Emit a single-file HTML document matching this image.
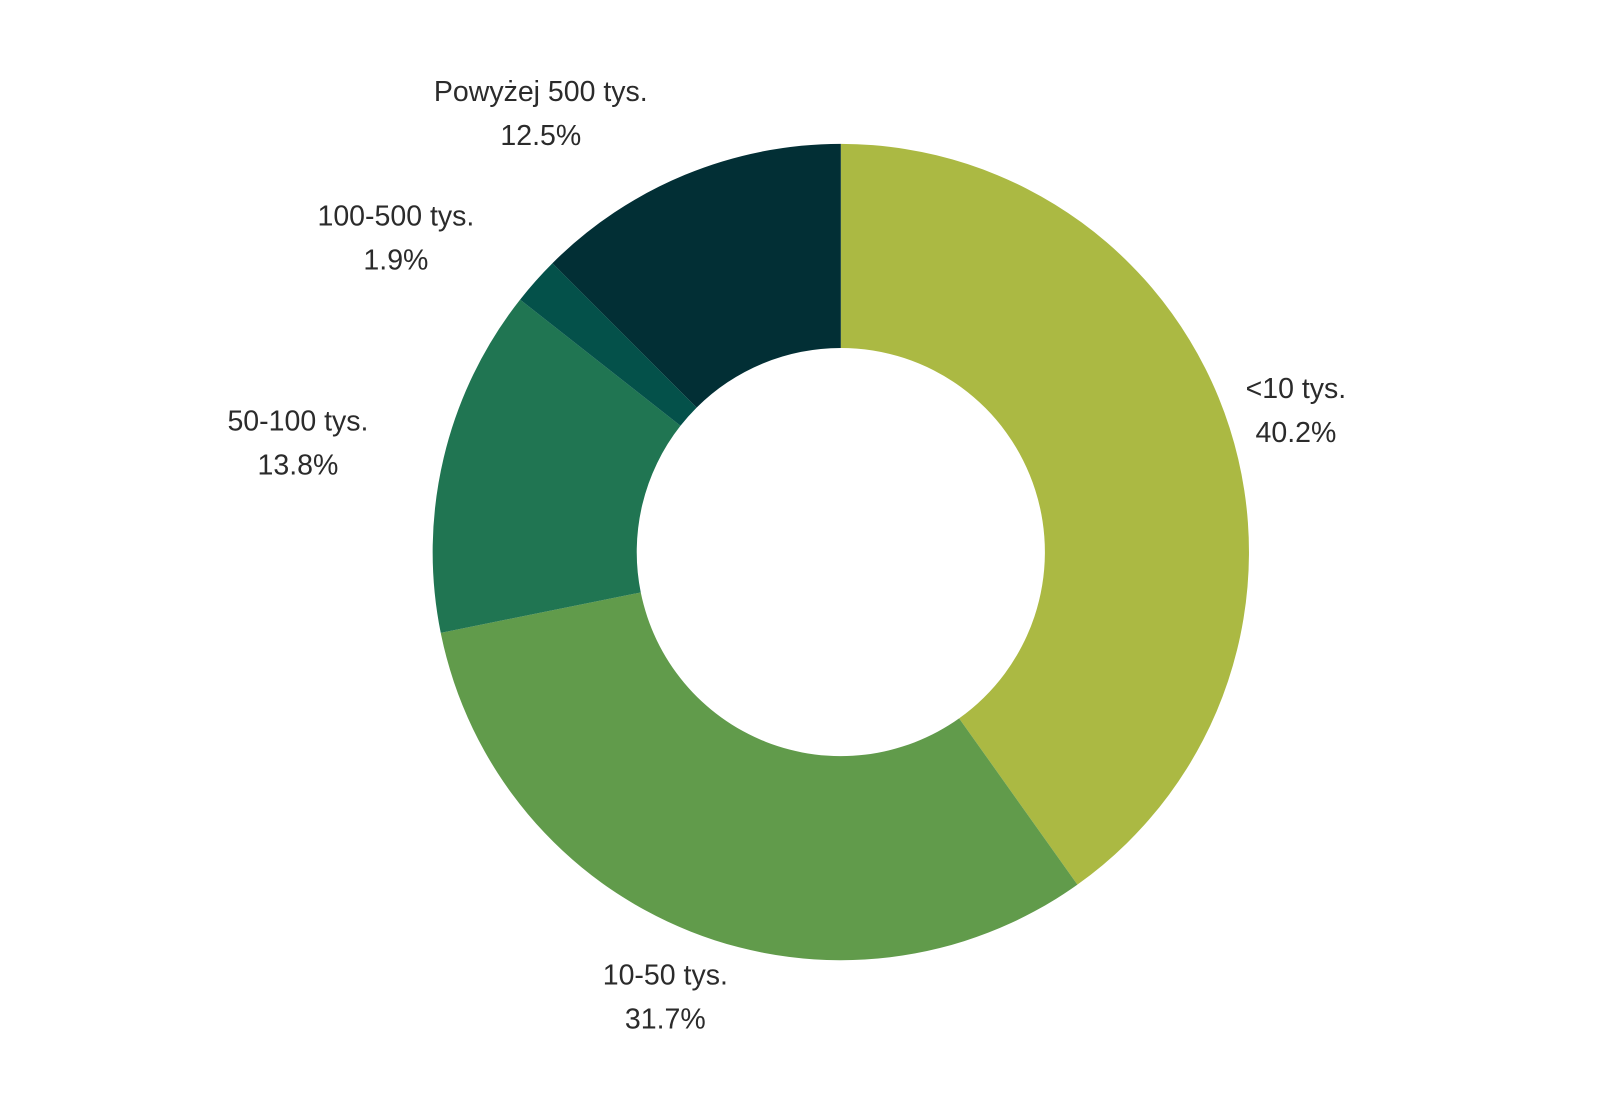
<!DOCTYPE html>
<html><head><meta charset="utf-8"><style>
html,body{margin:0;padding:0;background:#fff;}
svg{display:block;}
text{font-family:"Liberation Sans",sans-serif;font-size:28.5px;fill:#2b2b2b;}
</style></head><body>
<svg id="chart" width="1600" height="1105"></svg>
<script>
const categories = ["<10 tys.", "10-50 tys.", "50-100 tys.", "100-500 tys.", "Powyżej 500 tys."];
const values = [40.2, 31.7, 13.8, 1.9, 12.5];
const valueLabels = ["40.2%", "31.7%", "13.8%", "1.9%", "12.5%"];
const colors = ["#abb943", "#619b4b", "#207552", "#04514a", "#022f35"];
const S = 1600 / 1568;
const labelPos = [[1270, 380], [652, 955], [292, 412], [388, 211], [530, 89]];
const cx = 824 * S, cy = 541 * S, R = 400 * S, r = 200 * S;
const svg = document.getElementById('chart');
const NS = 'http://www.w3.org/2000/svg';
const total = values.reduce((a, b) => a + b, 0);
function pt(rad, frac) {
  const a = frac * 2 * Math.PI;
  return [cx + rad * Math.sin(a), cy - rad * Math.cos(a)];
}
let acc = 0;
values.forEach((v, i) => {
  const f0 = acc / total, f1 = (acc + v) / total;
  acc += v;
  const large = (f1 - f0) > 0.5 ? 1 : 0;
  const [x0, y0] = pt(R, f0), [x1, y1] = pt(R, f1);
  const [x2, y2] = pt(r, f1), [x3, y3] = pt(r, f0);
  const p = document.createElementNS(NS, 'path');
  p.setAttribute('d', `M${x0},${y0} A${R},${R} 0 ${large} 1 ${x1},${y1} L${x2},${y2} A${r},${r} 0 ${large} 0 ${x3},${y3} Z`);
  p.setAttribute('fill', colors[i]);
  
  
  svg.appendChild(p);
  const lx = labelPos[i][0] * S, ly = labelPos[i][1] * S;
  const t = document.createElementNS(NS, 'text');
  t.setAttribute('text-anchor', 'middle');
  
  
  const s1 = document.createElementNS(NS, 'tspan');
  s1.setAttribute('x', lx); s1.setAttribute('y', ly + 10);
  s1.textContent = categories[i];
  const s2 = document.createElementNS(NS, 'tspan');
  s2.setAttribute('x', lx); s2.setAttribute('y', ly + 10 + 44);
  s2.textContent = valueLabels[i];
  t.appendChild(s1); t.appendChild(s2);
  svg.appendChild(t);
});
</script>
</body></html>
